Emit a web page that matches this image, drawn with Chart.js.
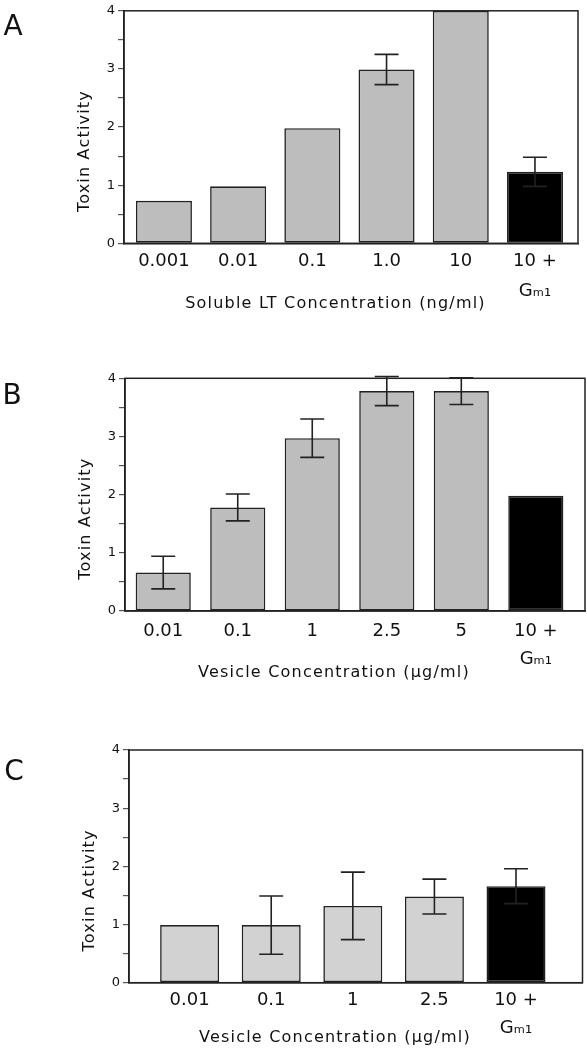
<!DOCTYPE html>
<html>
<head>
<meta charset="utf-8">
<script src="https://cdn.jsdelivr.net/npm/chart.js@4/dist/chart.umd.min.js"></script>
<style>
  html, body { margin: 0; padding: 0; background: #fff; }
  body { width: 587px; height: 1050px; position: relative; overflow: hidden; }
  .panel { position: absolute; left: 0; width: 587px; }
</style>
</head>
<body>
<div class="panel" style="top:0;height:330px"><canvas id="chartA"></canvas></div>
<div class="panel" style="top:330px;height:355px"><canvas id="chartB"></canvas></div>
<div class="panel" style="top:685px;height:365px"><canvas id="chartC"></canvas></div>
<script>
// --- data ---
const labelsA = ["0.001", "0.01", "0.1", "1.0", "10", ["10 +", "G\u2098\u2081"]];
const valuesA = [0.73, 0.98, 1.98, 2.99, 4, 1.23];
const errorsA = [0, 0, 0, 0.26, 0, 0.25];

const labelsB = ["0.01", "0.1", "1", "2.5", "5", ["10 +", "G\u2098\u2081"]];
const valuesB = [0.66, 1.78, 2.97, 3.78, 3.78, 1.98];
const errorsB = [0.28, 0.23, 0.33, 0.25, 0.23, 0];

const labelsC = ["0.01", "0.1", "1", "2.5", ["10 +", "G\u2098\u2081"]];
const valuesC = [0.99, 0.99, 1.32, 1.48, 1.66];
const errorsC = [0, 0.5, 0.58, 0.3, 0.3];

const yMin = 0;
const yMax = 4;
const yStep = 0.5;

Chart.defaults.font.family = "'DejaVu Sans', sans-serif";
Chart.defaults.color = "#111";

// error bars, box frame, panel letter and axis titles
const panelDecor = {
  id: "panelDecor",
  afterDatasetsDraw(chart, args, opts) {
    const { ctx, chartArea: a, scales } = chart;
    const meta = chart.getDatasetMeta(0);
    const ds = chart.data.datasets[0];
    ctx.save();
    ctx.strokeStyle = "#222";
    ctx.lineWidth = 1.6;
    opts.errors.forEach((e, i) => {
      if (!e) return;
      const x = meta.data[i].x;
      const v = ds.data[i].y;
      const yTop = scales.y.getPixelForValue(v + e);
      const yBot = scales.y.getPixelForValue(v - e);
      const half = opts.capWidth / 2;
      ctx.beginPath();
      ctx.moveTo(x, yTop); ctx.lineTo(x, yBot);
      ctx.moveTo(x - half, yTop); ctx.lineTo(x + half, yTop);
      ctx.moveTo(x - half, yBot); ctx.lineTo(x + half, yBot);
      ctx.stroke();
    });
    ctx.lineWidth = 1.5;
    ctx.strokeRect(a.left, a.top, a.right - a.left, a.bottom - a.top);
    ctx.restore();
  },
  afterDraw(chart, args, opts) {
    const { ctx, chartArea: a } = chart;
    ctx.save();
    ctx.fillStyle = "#111";
    ctx.textAlign = "center";
    ctx.textBaseline = "middle";
    ctx.font = "28px 'DejaVu Sans'";
    ctx.fillText(opts.letter, opts.letterX, opts.letterY);
    ctx.font = "16px 'DejaVu Sans'";
    ctx.letterSpacing = "1.2px";
    ctx.fillText(opts.xTitle, opts.xTitleX, opts.xTitleY);
    ctx.translate(a.left - 39, (a.top + a.bottom) / 2 + 24);
    ctx.rotate(-Math.PI / 2);
    ctx.fillText("Toxin Activity", 0, 0);
    ctx.restore();
  }
};

function makePanel(id, labels, values, errors, layout) {
  const n = values.length;
  const colors = values.map((v, i) => (i === n - 1 ? "#000" : layout.barColor));
  return new Chart(document.getElementById(id), {
    type: "bar",
    data: {
      datasets: [{
        data: values.map((v, i) => ({ x: i, y: v })),
        backgroundColor: colors,
        borderColor: "#222",
        borderWidth: 1.6,
        borderSkipped: false,
        categoryPercentage: 1,
        barPercentage: layout.barPct
      }]
    },
    options: {
      responsive: true,
      maintainAspectRatio: false,
      animation: false,
      layout: { padding: { left: 0, top: layout.top, right: layout.right, bottom: 0 } },
      plugins: {
        legend: { display: false },
        tooltip: { enabled: false },
        panelDecor: {
          errors: errors,
          capWidth: 24,
          letter: layout.letter,
          letterX: layout.letterX,
          letterY: layout.letterY,
          xTitle: layout.xTitle,
          xTitleX: layout.xTitleX,
          xTitleY: layout.xTitleY
        }
      },
      scales: {
        x: {
          type: "linear",
          offset: false,
          min: layout.xMin,
          max: layout.xMax,
          grid: { display: false, drawTicks: false, offset: false },
          border: { display: true, color: "#222", width: 1.5 },
          ticks: {
            stepSize: 1,
            includeBounds: false,
            autoSkip: false,
            maxRotation: 0,
            padding: layout.tickPad,
            font: { size: 18, lineHeight: layout.lineHeight },
            color: "#111",
            callback: (v) => (labels[v] !== undefined ? labels[v] : "")
          },
          afterFit: (scale) => { scale.height = layout.xHeight; }
        },
        y: {
          min: yMin,
          max: yMax,
          grid: { drawOnChartArea: false, drawTicks: true, tickLength: 6, color: "#555", lineWidth: 1.2 },
          border: { display: true, color: "#222", width: 1.5 },
          ticks: {
            stepSize: yStep,
            padding: 3,
            font: { size: 13 },
            color: "#111",
            callback: (v) => (Number.isInteger(v) ? String(v) : "")
          },
          afterFit: (scale) => { scale.width = layout.left; }
        }
      }
    },
    plugins: [panelDecor]
  });
}

makePanel("chartA", labelsA, valuesA, errorsA, {
  top: 10, right: 9, left: 124, xHeight: 86.7,
  xMin: -0.538, xMax: 5.58, barPct: 0.755, barColor: "#bdbdbd",
  tickPad: 3.5, lineHeight: 1.65,
  letter: "A", letterX: 13, letterY: 27.5,
  xTitle: "Soluble LT Concentration (ng/ml)", xTitleX: 335.5, xTitleY: 303.5
});

makePanel("chartB", labelsB, valuesB, errorsB, {
  top: 48.3, right: 2, left: 125, xHeight: 74,
  xMin: -0.513, xMax: 5.66, barPct: 0.74, barColor: "#bdbdbd",
  tickPad: 6.7, lineHeight: 1.55,
  letter: "B", letterX: 12, letterY: 66.5,
  xTitle: "Vesicle Concentration (\u03bcg/ml)", xTitleX: 334, xTitleY: 343
});

makePanel("chartC", labelsC, valuesC, errorsC, {
  top: 65, right: 4.5, left: 129, xHeight: 67.3,
  xMin: -0.743, xMax: 4.815, barPct: 0.723, barColor: "#d2d2d2",
  tickPad: 4, lineHeight: 1.53,
  letter: "C", letterX: 14, letterY: 88,
  xTitle: "Vesicle Concentration (\u03bcg/ml)", xTitleX: 335, xTitleY: 352.5
});
</script>
</body>
</html>
